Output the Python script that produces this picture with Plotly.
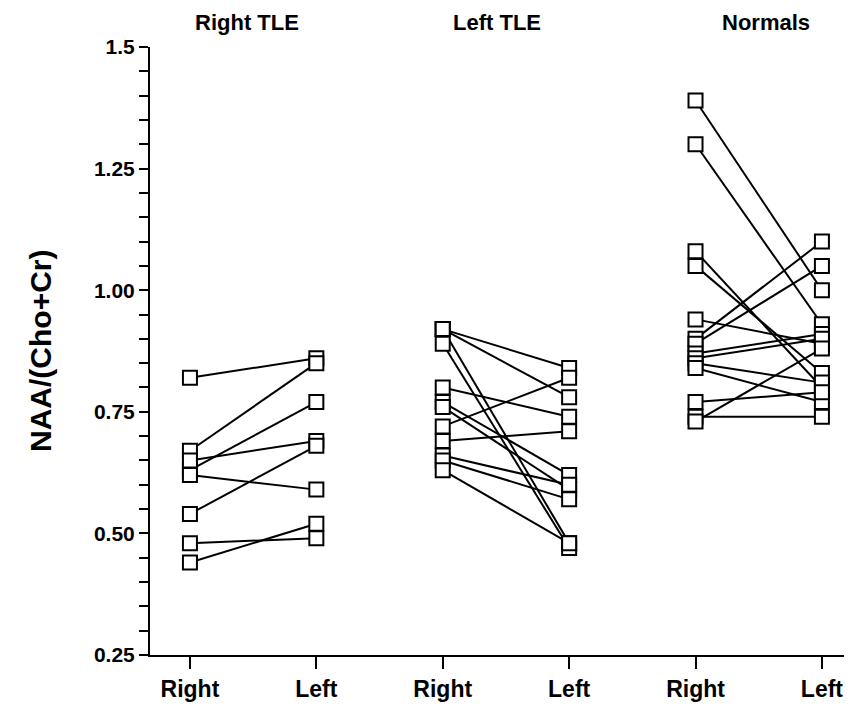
import plotly.graph_objects as go

# ---- data ----
group_titles = ["Right TLE", "Left TLE", "Normals"]
x_tick_labels = ["Right", "Left", "Right", "Left", "Right", "Left"]
y_tick_values = [0.25, 0.50, 0.75, 1.00, 1.25, 1.5]
y_tick_labels = ["0.25", "0.50", "0.75", "1.00", "1.25", "1.5"]

right_tle_right = [0.82, 0.67, 0.63, 0.65, 0.62, 0.54, 0.48, 0.44]
right_tle_left = [0.86, 0.85, 0.77, 0.69, 0.59, 0.68, 0.49, 0.52]

left_tle_right = [0.92, 0.92, 0.92, 0.89, 0.80, 0.77, 0.76, 0.72, 0.69, 0.66, 0.65, 0.63]
left_tle_left = [0.84, 0.78, 0.48, 0.47, 0.74, 0.62, 0.59, 0.82, 0.71, 0.60, 0.57, 0.48]

normals_right = [1.39, 1.30, 1.08, 1.05, 0.94, 0.90, 0.89, 0.87, 0.86, 0.85, 0.84, 0.77, 0.74, 0.73]
normals_left = [1.00, 0.93, 0.80, 0.83, 0.89, 1.10, 1.05, 0.91, 0.90, 0.81, 0.77, 0.79, 0.74, 0.88]

groups = [
    (right_tle_right, right_tle_left),
    (left_tle_right, left_tle_left),
    (normals_right, normals_left),
]

fig = go.Figure()

line_x, line_y, mk_x, mk_y = [], [], [], []
for gi, (rv, lv) in enumerate(groups):
    xr, xl = 2 * gi, 2 * gi + 1
    for a, b in zip(rv, lv):
        line_x += [xr, xl, None]
        line_y += [a, b, None]
        mk_x += [xr, xl]
        mk_y += [a, b]

fig.add_trace(go.Scatter(x=line_x, y=line_y, mode="lines",
                         line=dict(color="black", width=2),
                         hoverinfo="skip", showlegend=False))
fig.add_trace(go.Scatter(x=mk_x, y=mk_y, mode="markers",
                         marker=dict(symbol="square", size=14, color="white",
                                     line=dict(color="black", width=2)),
                         showlegend=False))

sans = "Liberation Sans, Arial, sans-serif"
for i, t in enumerate(group_titles):
    fig.add_annotation(x=2 * i + 0.5 + [-0.05, -0.07, 0.06][i], y=1.041,
                       xref="x", yref="paper", text=t, showarrow=False,
                       yanchor="middle",
                       font=dict(family=sans, size=22, color="black", weight="bold"))

fig.add_annotation(x=0, y=0.5, xref="paper", yref="paper", xshift=-110,
                   text="NAA/(Cho+Cr)", showarrow=False, textangle=-90,
                   xanchor="center", yanchor="middle",
                   font=dict(family=sans, size=30, color="black", weight="bold"))

fig.update_layout(
    width=844, height=703,
    margin=dict(l=142, r=0, t=39, b=56),
    paper_bgcolor="white", plot_bgcolor="white",
    xaxis=dict(range=[-0.316, 5.238], tickvals=list(range(6)), ticktext=x_tick_labels,
               showgrid=False, zeroline=False, showline=True, linecolor="black",
               linewidth=2, ticks="outside", ticklen=12, tickwidth=1.5, tickcolor="black",
               tickfont=dict(family=sans, size=23, color="black", weight="bold")),
    yaxis=dict(range=[0.25, 1.5], tickvals=y_tick_values, ticktext=y_tick_labels,
               showgrid=False, zeroline=False, showline=True, linecolor="black",
               linewidth=2, ticks="outside", ticklen=9, tickwidth=1.5, tickcolor="black",
               tickfont=dict(family=sans, size=21, color="black", weight="bold"),
               minor=dict(dtick=0.05, ticks="outside", ticklen=9, tickwidth=1.5,
                          tickcolor="black", showgrid=False)),
)

fig.write_html("out.html")
